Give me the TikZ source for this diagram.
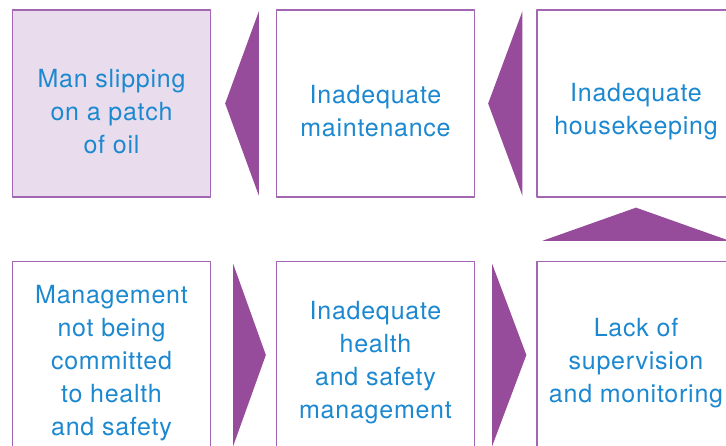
\documentclass[tikz,border=0pt]{standalone}
\usepackage{fontspec}
\setmainfont{TeX Gyre Heros}[LetterSpace=3]
\usepackage{tikz}

\definecolor{boxline}{RGB}{163,102,178}
\definecolor{wedgefill}{RGB}{150,76,155}
\definecolor{lilac}{RGB}{233,221,237}
\definecolor{textblue}{RGB}{28,136,208}

\begin{document}
\begin{tikzpicture}[line cap=round, line join=round, x=1pt, y=1pt,
    box/.style={draw=boxline, line width=1.3pt, minimum width=198pt, minimum height=187pt, inner sep=0pt},
    txt/.style={text=textblue, align=center, font=\fontsize{25}{33}\selectfont},
    wedge/.style={fill=wedgefill}]

                \useasboundingbox (0,0) rectangle (726,446);

                % top row
                \node[box, fill=lilac] (b1) at (111.5,342.5) {};
                \node[box] (b2) at (375.5,342.5) {};
                \node[box] (b3) at (636,342.5) {};

                % bottom row
                \node[box] (b4) at (111.5,91) {};
                \node[box] (b5) at (375.5,91) {};
                \node[box] (b6) at (636,91) {};

                \node[txt] (t1) at ([yshift=-8pt]b1.center) {Man slipping\\on a patch\\of oil};
                \node[txt] (t2) at ([yshift=-8pt]b2.center) {Inadequate\\maintenance};
                \node[txt] (t3) at ([yshift=-8pt]b3.center) {Inadequate\\housekeeping};
                \node[txt] (t4) at ([yshift=-8pt]b4.center) {Management\\not being\\committed\\to health\\and safety};
                \node[txt] (t5) at ([yshift=-8pt]b5.center) {Inadequate\\health\\and safety\\management};
                \node[txt] (t6) at ([yshift=-8pt]b6.center) {Lack of\\supervision\\and monitoring};

                % wedges between the boxes
                \fill[wedge] ([xshift=14pt]b1.east) -- ([xshift=-17pt,yshift=-2pt]b2.north west) -- ([xshift=-17pt,yshift=2pt]b2.south west) -- cycle;
                \fill[wedge] ([xshift=13pt]b2.east) -- ([xshift=-14pt,yshift=-2pt]b3.north west) -- ([xshift=-14pt,yshift=2pt]b3.south west) -- cycle;
                \fill[wedge] ([yshift=-10pt]b3.south) -- ([xshift=6pt,yshift=20pt]b6.north west) -- ([xshift=-6pt,yshift=20pt]b6.north east) -- cycle;
                \fill[wedge] ([xshift=-10pt]b5.west) -- ([xshift=22pt,yshift=-3pt]b4.north east) -- ([xshift=22pt,yshift=3pt]b4.south east) -- cycle;
                \fill[wedge] ([xshift=-10pt]b6.west) -- ([xshift=17pt,yshift=-3pt]b5.north east) -- ([xshift=17pt,yshift=3pt]b5.south east) -- cycle;

            \end{tikzpicture}
\end{document}
